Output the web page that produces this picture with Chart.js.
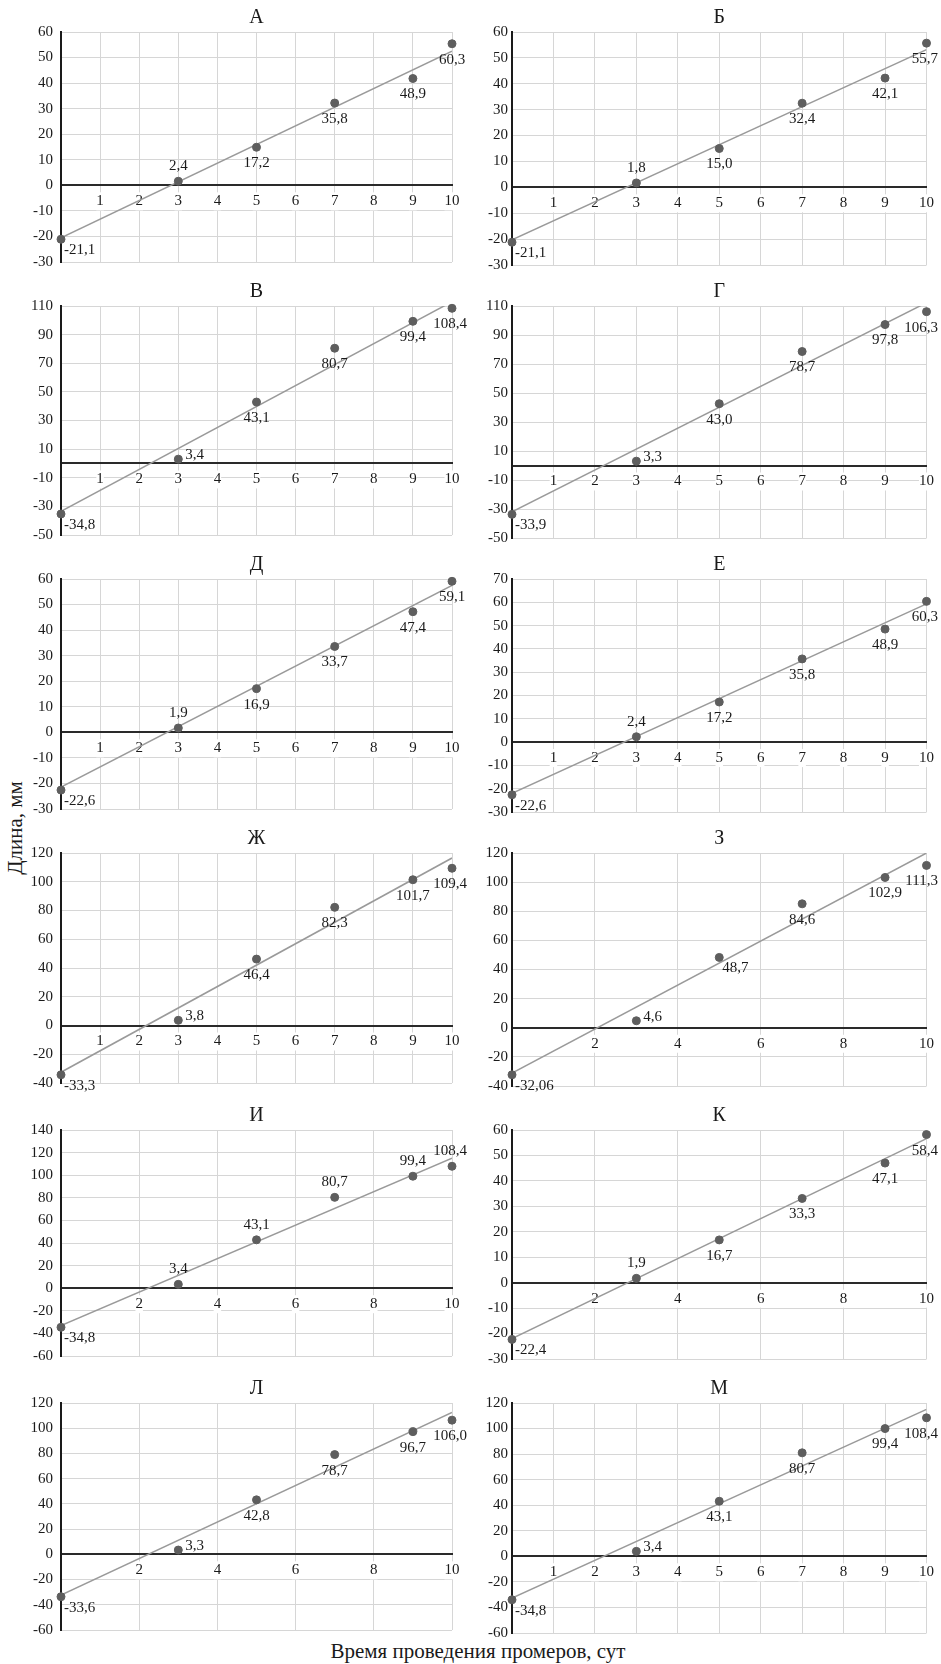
<!DOCTYPE html>
<html lang="ru">
<head>
<meta charset="utf-8">
<title>Длина, мм</title>
<script src="https://cdn.jsdelivr.net/npm/chart.js@4.4.1/dist/chart.umd.min.js"></script>
<style>
  body { margin: 0; background: #fff; }
  #sheet { position: relative; width: 941px; height: 1664px; overflow: hidden;
           font-family: "Liberation Serif", "Times New Roman", serif; color: #1a1a1a; }
  #sheet canvas { position: absolute; }
  .ylab { position: absolute; left: 15px; top: 828px; font-size: 21px; white-space: nowrap;
          transform: translate(-50%, -50%) rotate(-90deg); }
  .xlab { position: absolute; left: 478px; top: 1651px; font-size: 21px; white-space: nowrap;
          transform: translate(-50%, -50%); }
</style>
</head>
<body>
<div id="sheet">
  <div class="ylab">Длина, мм</div>
  <div class="xlab">Время проведения промеров, сут</div>
</div>
<script>
// days of measurement (x) and the trend endpoints
const days = [0, 3, 5, 7, 9, 10];
const trendDays = [0, 10];
const panelTitles = ["А", "Б", "В", "Г", "Д", "Е", "Ж", "З", "И", "К", "Л", "М"];

// plotted lengths, mm (as drawn)
const lenA  = [-21.1, 1.6, 14.9, 32.2, 41.8, 55.4];
const lenB  = [-21.2, 1.7, 15.0, 32.5, 42.2, 55.7];
const lenV  = [-35.3, 3.0, 42.9, 80.5, 99.3, 108.4];
const lenG  = [-33.7, 3.0, 42.6, 78.6, 97.2, 106.1];
const lenD  = [-22.6, 1.7, 17.1, 33.6, 47.2, 59.1];
const lenE  = [-22.6, 2.3, 17.2, 35.7, 48.5, 60.4];
const lenZh = [-34.3, 3.6, 46.2, 82.2, 101.4, 109.4];
const lenZ  = [-32.3, 4.8, 48.3, 85.1, 103.2, 111.5];
const lenI  = [-34.6, 3.4, 42.8, 80.4, 99.1, 107.9];
const lenK  = [-22.3, 1.7, 16.8, 33.1, 47.0, 58.2];
const lenL  = [-33.6, 3.4, 43.2, 79.1, 97.3, 106.4];
const lenM  = [-34.0, 3.9, 43.1, 81.0, 100.0, 108.4];

// value labels printed next to the points
const textA  = ["-21,1", "2,4", "17,2", "35,8", "48,9", "60,3"];
const textB  = ["-21,1", "1,8", "15,0", "32,4", "42,1", "55,7"];
const textV  = ["-34,8", "3,4", "43,1", "80,7", "99,4", "108,4"];
const textG  = ["-33,9", "3,3", "43,0", "78,7", "97,8", "106,3"];
const textD  = ["-22,6", "1,9", "16,9", "33,7", "47,4", "59,1"];
const textE  = ["-22,6", "2,4", "17,2", "35,8", "48,9", "60,3"];
const textZh = ["-33,3", "3,8", "46,4", "82,3", "101,7", "109,4"];
const textZ  = ["-32,06", "4,6", "48,7", "84,6", "102,9", "111,3"];
const textI  = ["-34,8", "3,4", "43,1", "80,7", "99,4", "108,4"];
const textK  = ["-22,4", "1,9", "16,7", "33,3", "47,1", "58,4"];
const textL  = ["-33,6", "3,3", "42,8", "78,7", "96,7", "106,0"];
const textM  = ["-34,8", "3,4", "43,1", "80,7", "99,4", "108,4"];

// linear trend, value at day 0 and day 10
const trendA  = [-20.5, 52.5];
const trendB  = [-20.3, 53.2];
const trendV  = [-33.5, 113.0];
const trendG  = [-32.0, 112.3];
const trendD  = [-21.4, 57.5];
const trendE  = [-22.0, 59.3];
const trendZh = [-32.5, 116.5];
const trendZ  = [-31.1, 120.0];
const trendI  = [-33.0, 115.0];
const trendK  = [-22.0, 56.6];
const trendL  = [-32.3, 112.6];
const trendM  = [-32.7, 115.0];

// axis ranges
const yMin  = [-30, -30, -50, -50, -30, -30, -40, -40, -60, -30, -60, -60];
const yMax  = [60, 60, 110, 110, 60, 70, 120, 120, 140, 60, 120, 120];
const yStep = [10, 10, 20, 20, 10, 10, 20, 20, 20, 10, 20, 20];
const xStep = [1, 1, 1, 1, 1, 1, 1, 2, 2, 2, 2, 1];

// where each value label sits: a = above, b = below, r = right, br = below right
const placeStd   = ["br", "a", "b", "b", "b", "b"];
const placeRight = ["br", "r", "b", "b", "b", "b"];
const placeZ     = ["br", "r", "br", "b", "b", "b"];
const placeI     = ["br", "a", "a", "a", "a", "a"];

const panels = [
    { len: lenA,  text: textA,  trend: trendA,  place: placeStd },
    { len: lenB,  text: textB,  trend: trendB,  place: placeStd },
    { len: lenV,  text: textV,  trend: trendV,  place: placeRight },
    { len: lenG,  text: textG,  trend: trendG,  place: placeRight },
    { len: lenD,  text: textD,  trend: trendD,  place: placeStd },
    { len: lenE,  text: textE,  trend: trendE,  place: placeStd },
    { len: lenZh, text: textZh, trend: trendZh, place: placeRight },
    { len: lenZ,  text: textZ,  trend: trendZ,  place: placeZ },
    { len: lenI,  text: textI,  trend: trendI,  place: placeI },
    { len: lenK,  text: textK,  trend: trendK,  place: placeStd },
    { len: lenL,  text: textL,  trend: trendL,  place: placeRight },
    { len: lenM,  text: textM,  trend: trendM,  place: placeRight }
];

// page layout
const rowTop    = [32, 306, 579, 853, 1130, 1403];
const rowBottom = [265, 538, 812, 1086, 1359, 1633];
const colLeft   = [0, 470];
const colWidth  = [470, 471];
const axisWidth = [61, 42];
const padRight  = [18, 14];
const tickGap   = [8, 4];
const headRoom = 32, footRoom = 14;

const serif = '"Liberation Serif", "Times New Roman", serif';
Chart.defaults.font.family = serif;
Chart.defaults.font.size = 15;
Chart.defaults.color = "#1a1a1a";

const pointText = {
    id: "pointText",
    afterDatasetsDraw(chart, args, opts) {
        let ctx = chart.ctx;
        let meta = chart.getDatasetMeta(0);
        let edge = chart.width - 3;
        ctx.save();
        ctx.font = "15px " + serif;
        ctx.fillStyle = "#1a1a1a";
        ctx.textBaseline = "middle";
        meta.data.forEach((pt, i) => {
            let p = opts.place[i];
            let x = pt.x, y = pt.y;
            let w = ctx.measureText(opts.text[i]).width;
            if (p === "a") { y -= 15; }
            else if (p === "b") { y += 16; }
            else if (p === "r") { x += 7 + w / 2; y -= 4; }
            else { x += 3 + w / 2; y += 11; }
            // keep the text inside the canvas at the right edge
            if (x + w / 2 > edge) x = edge - w / 2;
            ctx.textAlign = "center";
            ctx.fillText(opts.text[i], x, y);
        });
        ctx.restore();
    }
};

const panelTitle = {
    id: "panelTitle",
    afterDraw(chart, args, opts) {
        let ctx = chart.ctx;
        let area = chart.chartArea;
        ctx.save();
        ctx.font = "20px " + serif;
        ctx.fillStyle = "#1a1a1a";
        ctx.textAlign = "center";
        ctx.textBaseline = "middle";
        ctx.fillText(opts.text, (area.left + area.right) / 2, area.top - 14);
        ctx.restore();
    }
};

let sheet = document.getElementById("sheet");

panels.forEach((panel, i) => {
    let col = i % 2, row = Math.floor(i / 2);
    let canvas = document.createElement("canvas");
    let h = rowBottom[row] - rowTop[row] + headRoom + footRoom;
    canvas.width = colWidth[col];
    canvas.height = h;
    canvas.style.left = colLeft[col] + "px";
    canvas.style.top = (rowTop[row] - headRoom) + "px";
    sheet.appendChild(canvas);

    new Chart(canvas.getContext("2d"), {
        type: "scatter",
        data: {
            datasets: [{
                data: days.map((d, k) => ({ x: d, y: panel.len[k] })),
                backgroundColor: "#5e5e5e",
                borderColor: "#5e5e5e",
                pointRadius: 4,
                pointHoverRadius: 4,
                clip: false
            }, {
                data: trendDays.map((d, k) => ({ x: d, y: panel.trend[k] })),
                showLine: true,
                borderColor: "#9a9a9a",
                borderWidth: 1.5,
                pointRadius: 0,
                clip: 0
            }]
        },
        options: {
            responsive: false,
            animation: false,
            devicePixelRatio: 1,
            layout: { padding: { top: headRoom, bottom: footRoom, left: 0, right: padRight[col] } },
            plugins: {
                legend: { display: false },
                tooltip: { enabled: false },
                pointText: { text: panel.text, place: panel.place },
                panelTitle: { text: panelTitles[i] }
            },
            scales: {
                x: {
                    type: "linear",
                    position: { y: 0 },
                    min: 0,
                    max: 10,
                    grid: { color: "#d6d6d6", lineWidth: 1, drawTicks: false },
                    border: { color: "#2a2a2a", width: 2 },
                    ticks: {
                        stepSize: xStep[i],
                        autoSkip: false,
                        maxRotation: 0,
                        padding: 7,
                        showLabelBackdrop: true,
                        backdropColor: "#ffffff",
                        backdropPadding: 0,
                        callback: v => v === 0 ? "" : v
                    }
                },
                y: {
                    min: yMin[i],
                    max: yMax[i],
                    grid: { color: "#d6d6d6", lineWidth: 1, drawTicks: false },
                    border: { color: "#1a1a1a", width: 2 },
                    ticks: { stepSize: yStep[i], autoSkip: false, padding: tickGap[col] },
                    afterFit: scale => { scale.width = axisWidth[col]; }
                }
            }
        },
        plugins: [pointText, panelTitle]
    });
});
</script>
</body>
</html>
